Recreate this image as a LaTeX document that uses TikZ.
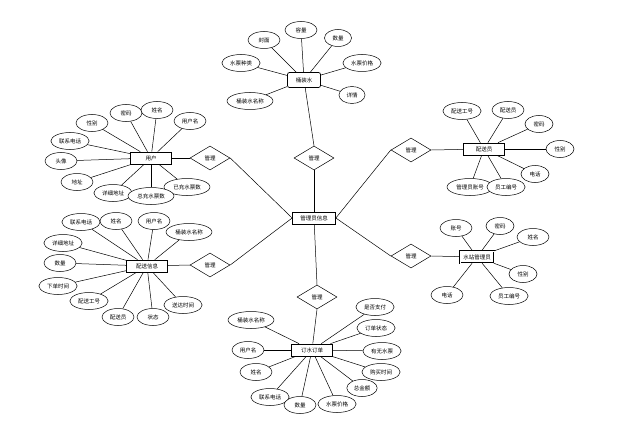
\documentclass[tikz,border=0pt]{standalone}
\usepackage{fontspec}
\setmainfont{Noto Sans CJK SC}
\usetikzlibrary{shapes.geometric}
\begin{document}
\begin{tikzpicture}[x=1pt,y=-1pt,
  lbl/.style={font=\fontsize{5.5}{6}\selectfont},
  attr/.style={ellipse,draw,fill=white,line width=0.5pt,minimum width=32pt,minimum height=17pt,inner xsep=2.5pt,inner ysep=1pt,lbl},
  ent/.style={rectangle,draw,fill=white,line width=0.7pt,minimum width=41pt,minimum height=12pt,inner sep=1pt,lbl},
  rel/.style={diamond,draw,fill=white,line width=0.5pt,minimum width=40pt,minimum height=24pt,inner sep=0pt,aspect=1.67,lbl},
  conn/.style={line width=0.5pt}]
\useasboundingbox (0,0) rectangle (626,425);
% central entity
\node[ent,minimum width=43pt] (adm) at (314,218) {管理员信息};
% top cluster
\node[ent,rounded corners=2pt,minimum width=33pt,minimum height=15pt] (tsw) at (304,80) {桶装水};
\node[attr] (t1) at (264,40) {封面};
\node[attr] (t2) at (301,30) {容量};
\node[attr,minimum width=27pt] (t3) at (338,38) {数量};
\node[attr] (t4) at (362,63) {水票价格};
\node[attr,minimum width=26pt] (t5) at (352,95) {详情};
\node[attr] (t6) at (241,63) {水票种类};
\node[attr] (t7) at (250,101) {桶装水名称};
\node[rel] (r1) at (314,158) {管理};
% user cluster
\node[ent] (usr) at (151,158) {用户};
\node[attr] (u1) at (92,123) {性别};
\node[attr] (u2) at (126,113) {密码};
\node[attr] (u3) at (157,110) {姓名};
\node[attr] (u4) at (190,121) {用户名};
\node[attr] (u5) at (70,141) {联系电话};
\node[attr] (u6) at (61,161) {头像};
\node[attr] (u7) at (77,182) {地址};
\node[attr] (u8) at (113,193) {详细地址};
\node[attr] (u10) at (187,187) {已充水票数};
\node[attr] (u9) at (151,196) {总充水票数};
\node[rel] (r2) at (210,158) {管理};
% delivery info cluster
\node[ent] (dl) at (147,266) {配送信息};
\node[attr] (d1) at (81,222) {联系电话};
\node[attr] (d2) at (116,221) {姓名};
\node[attr] (d3) at (154,221) {用户名};
\node[attr] (d4) at (189,232) {桶装水名称};
\node[attr] (d5) at (63,243) {详细地址};
\node[attr] (d6) at (60,263) {数量};
\node[attr] (d7) at (58,286) {下单时间};
\node[attr] (d8) at (89,301) {配送工号};
\node[attr] (d9) at (118,317) {配送员};
\node[attr] (d10) at (153,317) {状态};
\node[attr] (d11) at (183,305) {送达时间};
\node[rel] (r3) at (210,265) {管理};
% order cluster
\node[rel] (r4) at (317,297) {管理};
\node[ent] (ord) at (312,350) {订水订单};
\node[attr] (o1) at (251,320) {桶装水名称};
\node[attr] (o2) at (248,350) {用户名};
\node[attr] (o3) at (256,372) {姓名};
\node[attr] (o4) at (270,397) {联系电话};
\node[attr] (o5) at (300,405) {数量};
\node[attr] (o6) at (337,404) {水票价格};
\node[attr,minimum width=28pt] (o7) at (362,388) {总金额};
\node[attr] (o8) at (381,372) {购买时间};
\node[attr] (o9) at (382,351) {有无水票};
\node[attr] (o10) at (376,328) {订单状态};
\node[attr] (o11) at (375,307) {是否支付};
% courier cluster
\node[rel] (r5) at (411,150) {管理};
\node[ent] (cr) at (484,149) {配送员};
\node[attr] (c1) at (462,111) {配送工号};
\node[attr] (c2) at (508,110) {配送员};
\node[attr,minimum width=28pt] (c3) at (539,124) {密码};
\node[attr,minimum width=28pt] (c4) at (560,149) {性别};
\node[attr,minimum width=28pt] (c5) at (535,174) {电话};
\node[attr] (c6) at (470,187) {管理员账号};
\node[attr] (c7) at (506,187) {员工编号};
% station admin cluster
\node[rel] (r6) at (411,256) {管理};
\node[ent,double,double distance=0.6pt,line width=0.4pt,minimum width=34pt] (sa) at (477,257) {水站管理员};
\node[attr] (s1) at (456,228) {账号};
\node[attr,minimum width=28pt] (s2) at (500,226) {密码};
\node[attr] (s3) at (533,237) {姓名};
\node[attr,minimum width=28pt] (s4) at (523,274) {性别};
\node[attr] (s5) at (447,295) {电话};
\node[attr] (s6) at (509,296) {员工编号};
% connectors
\foreach \a in {t1,t2,t3,t4,t5,t6,t7} \draw[conn] (tsw) -- (\a);
\draw[conn] (tsw) -- (r1.north);
\draw[conn] (r1.south) -- (adm);
\foreach \a in {u1,u2,u3,u4,u5,u6,u7,u8,u9,u10} \draw[conn] (usr) -- (\a);
\draw[conn] (usr) -- (r2.west);
\draw[conn] (r2.east) -- (adm.west);
\foreach \a in {d1,d2,d3,d4,d5,d6,d7,d8,d9,d10,d11} \draw[conn] (dl) -- (\a);
\draw[conn] (dl) -- (r3.west);
\draw[conn] (r3.east) -- (adm.west);
\draw[conn] (adm) -- (r4.north);
\draw[conn] (r4.south) -- (ord);
\foreach \a in {o1,o2,o3,o4,o5,o6,o7,o8,o9,o10,o11} \draw[conn] (ord) -- (\a);
\draw[conn] (adm.east) -- (r5.west);
\draw[conn] (r5.east) -- (cr);
\foreach \a in {c1,c2,c3,c4,c5,c6,c7} \draw[conn] (cr) -- (\a);
\draw[conn] (adm.east) -- (r6.west);
\draw[conn] (r6.east) -- (sa);
\foreach \a in {s1,s2,s3,s4,s5,s6} \draw[conn] (sa) -- (\a);
\end{tikzpicture}
\end{document}
